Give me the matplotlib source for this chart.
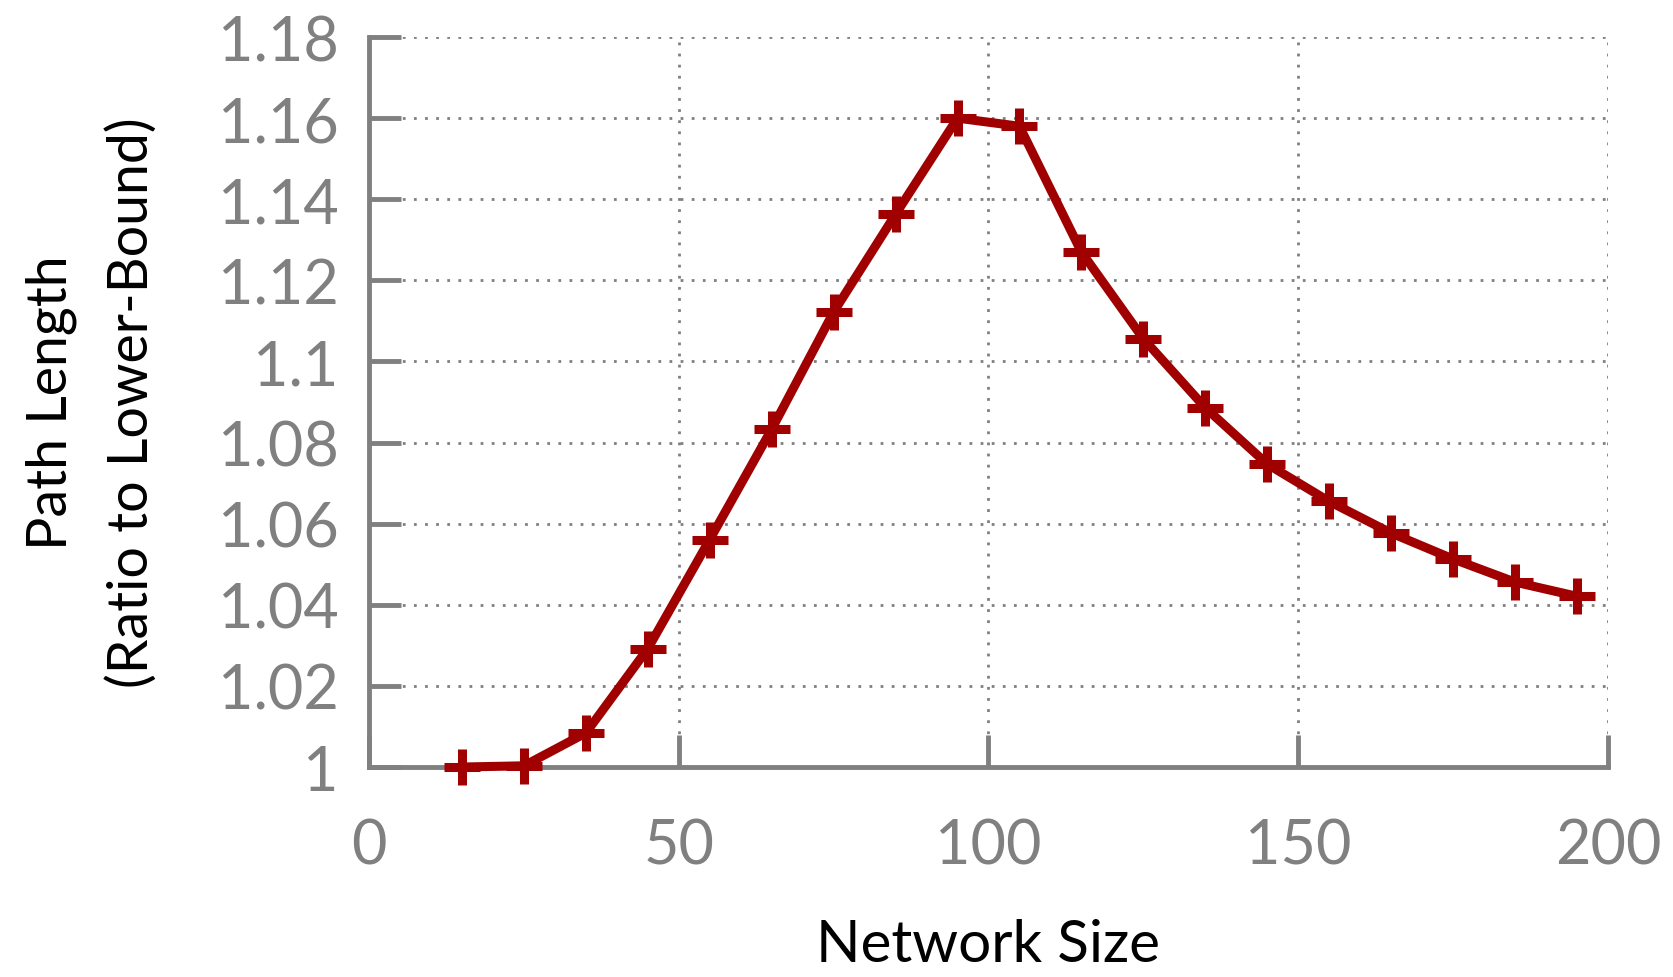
import matplotlib
matplotlib.use("Agg")
import matplotlib.pyplot as plt

# Network size vs. path length ratio
network_size = [15, 25, 35, 45, 55, 65, 75, 85, 95, 105,
                115, 125, 135, 145, 155, 165, 175, 185, 195]
path_ratio = [1.000, 1.0003, 1.0084, 1.0292, 1.0561, 1.0833, 1.1122, 1.1363, 1.1600, 1.1580,
              1.1270, 1.1056, 1.0886, 1.0747, 1.0655, 1.0577, 1.0513, 1.0456, 1.0421]

x_ticks = [0, 50, 100, 150, 200]
y_ticks = [1.00, 1.02, 1.04, 1.06, 1.08, 1.10, 1.12, 1.14, 1.16, 1.18]
y_tick_labels = ["1", "1.02", "1.04", "1.06", "1.08", "1.1", "1.12", "1.14", "1.16", "1.18"]

plt.rcParams["font.family"] = ["Lato", "DejaVu Sans"]

GRAY = "#808080"
RED = "#a00000"

fig = plt.figure(figsize=(16.73, 9.78), dpi=100)
ax = fig.add_axes([0.2206, 0.2147, 0.9611 - 0.2206, 0.9611 - 0.2147])

ax.plot(network_size, path_ratio, color=RED, linewidth=6.5, marker="+",
        markersize=26, markeredgewidth=6.5, solid_capstyle="round",
        solid_joinstyle="round", clip_on=False, zorder=5)

ax.set_xlim(0, 200)
ax.set_ylim(1.0, 1.18)
ax.set_xticks(x_ticks)
ax.set_xticklabels([str(t) for t in x_ticks])
ax.set_yticks(y_ticks)
ax.set_yticklabels(y_tick_labels)

ax.grid(True, color=GRAY, linestyle=(0, (1, 3)), linewidth=2.0)
ax.set_axisbelow(True)

for side in ("top", "right"):
    ax.spines[side].set_visible(False)
for side in ("left", "bottom"):
    ax.spines[side].set_color(GRAY)
    ax.spines[side].set_linewidth(3.5)

ax.tick_params(axis="both", direction="in", length=23, width=3.5, color=GRAY,
               labelcolor=GRAY, labelsize=44)
ax.tick_params(axis="y", pad=22)
ax.tick_params(axis="x", pad=36)

ax.set_xlabel("Network Size", fontsize=42, color="black", labelpad=32)
ax.set_ylabel("Path Length\n(Ratio to Lower-Bound)", fontsize=40, color="black",
              labelpad=43, linespacing=1.70)

fig.savefig("out.png", dpi=100)
